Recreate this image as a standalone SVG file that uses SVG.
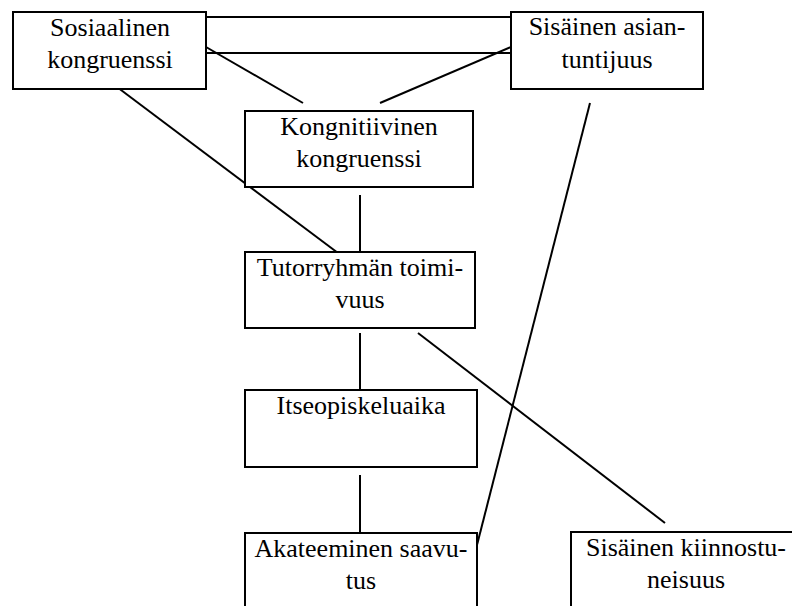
<svg xmlns="http://www.w3.org/2000/svg" width="792" height="606" viewBox="0 0 792 606">
<style>
.box{fill:#fff;stroke:#000;stroke-width:2}
#connectors line{stroke:#000;stroke-width:2}
.t{font-family:'Liberation Serif','Times New Roman',Times,serif;font-size:26px;fill:#000;text-anchor:middle}
</style>
<rect x="0" y="0" width="792" height="606" fill="#ffffff"/>
<g id="connectors">
<line x1="206" y1="17" x2="511" y2="17"/>
<line x1="206" y1="53" x2="511" y2="53"/>
<line x1="206" y1="47" x2="303" y2="103"/>
<line x1="511" y1="47" x2="380" y2="103"/>
<line x1="113" y1="84" x2="338" y2="253"/>
<line x1="360" y1="195" x2="360" y2="252"/>
<line x1="360" y1="333" x2="360" y2="390"/>
<line x1="360" y1="475" x2="360" y2="533"/>
<line x1="590" y1="103" x2="477" y2="545"/>
<line x1="418" y1="333" x2="665" y2="523"/>
</g>
<g id="sosiaalinen" font-family="Liberation Serif, serif">
<rect class="box" x="13" y="12" width="193" height="77"/>
<text class="t" x="110" y="36">Sosiaalinen</text>
<text class="t" x="110" y="68">kongruenssi</text>
</g>
<g id="sisainen-asiantuntijuus">
<rect class="box" x="511" y="12" width="192" height="77"/>
<text class="t" x="607" y="35">Sisäinen asian-</text>
<text class="t" x="607" y="68">tuntijuus</text>
</g>
<g id="kongnitiivinen">
<rect class="box" x="245" y="111" width="228" height="76"/>
<text class="t" x="359" y="135">Kongnitiivinen</text>
<text class="t" x="359" y="167">kongruenssi</text>
</g>
<g id="tutorryhma">
<rect class="box" x="245" y="252" width="230" height="76"/>
<text class="t" x="360" y="276">Tutorryhmän toimi-</text>
<text class="t" x="360" y="308">vuus</text>
</g>
<g id="itseopiskeluaika">
<rect class="box" x="245" y="390" width="232" height="77"/>
<text class="t" x="361" y="414">Itseopiskeluaika</text>
</g>
<g id="akateeminen">
<rect class="box" x="245" y="533" width="232" height="90"/>
<text class="t" x="361" y="557">Akateeminen saavu-</text>
<text class="t" x="361" y="589">tus</text>
</g>
<g id="kiinnostuneisuus">
<rect class="box" x="571" y="532" width="232" height="90"/>
<text class="t" x="686" y="556">Sisäinen kiinnostu-</text>
<text class="t" x="686" y="588">neisuus</text>
</g>
</svg>
